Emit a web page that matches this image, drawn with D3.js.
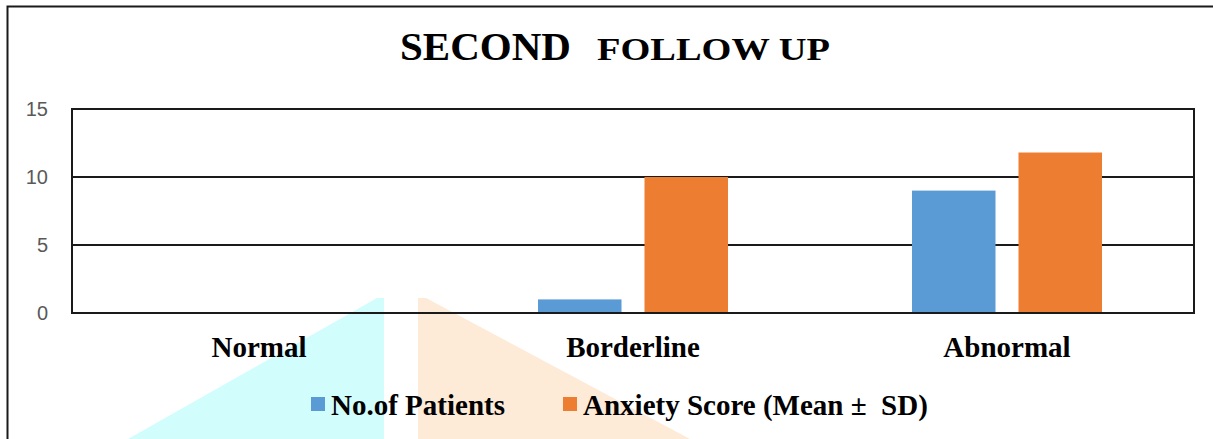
<!DOCTYPE html>
<html>
<head>
<meta charset="utf-8">
<script src="https://cdn.jsdelivr.net/npm/d3@7"></script>
<style>
  body { margin: 0; background: #fff; }
  svg { display: block; }
</style>
</head>
<body>
<div id="chart"></div>
<script>
// chart values
var categories = ["Normal", "Borderline", "Abnormal"];
var seriesNames = ["No.of Patients", "Anxiety Score (Mean \u00b1  SD)"];
var patients = [0, 1, 9];
var anxiety = [0, 10, 11.8];
var yTicks = [0, 5, 10, 15];
var colors = ["#5b9bd5", "#ed7d31"];

var W = 1213, H = 439;
var plot = {left: 72, right: 1194, top: 109, bottom: 313};

var svg = d3.select("#chart").append("svg")
    .attr("width", W)
    .attr("height", H);

// faint watermark behind the chart
svg.append("polygon")
    .attr("points", "128,439 377,298 384,298 384,439")
    .attr("fill", "#d2fdfd");
svg.append("polygon")
    .attr("points", "418,298 426,298 690,439 418,439")
    .attr("fill", "#fdebd8");

// outer frame (left + top edges visible)
svg.append("path")
    .attr("d", "M7.5,439 L7.5,6.5 L1213,6.5")
    .attr("fill", "none")
    .attr("stroke", "#1a1a1a")
    .attr("stroke-width", 2);

// title
svg.append("text")
    .attr("x", 400).attr("y", 60)
    .style("font-family", "'Liberation Serif', 'Times New Roman', serif")
    .style("font-weight", "bold")
    .style("font-size", "41px")
    .attr("fill", "#000")
    .text("SECOND");
svg.append("text")
    .attr("x", 597).attr("y", 60)
    .attr("textLength", 233)
    .attr("lengthAdjust", "spacingAndGlyphs")
    .style("font-family", "'Liberation Serif', 'Times New Roman', serif")
    .style("font-weight", "bold")
    .style("font-size", "32px")
    .attr("fill", "#000")
    .text("FOLLOW UP");

// scales
var x0 = d3.scaleBand()
    .domain(categories)
    .range([plot.left, plot.right])
    .paddingInner(0.492)
    .paddingOuter(0.246);

var x1 = d3.scaleBand()
    .domain([0, 1])
    .range([0, x0.bandwidth()])
    .paddingInner(0.216)
    .paddingOuter(0);

var y = d3.scaleLinear()
    .domain([0, 15])
    .range([plot.bottom, plot.top]);

// gridlines
svg.append("g")
    .selectAll("line")
    .data(yTicks.filter(function(d){ return d > 0 && d < 15; }))
    .enter()
    .append("line")
    .attr("x1", plot.left).attr("x2", plot.right)
    .attr("y1", function(d){ return y(d); })
    .attr("y2", function(d){ return y(d); })
    .attr("stroke", "#1a1a1a")
    .attr("stroke-width", 2);

// bars
var groups = svg.selectAll(".grp")
    .data(categories)
    .enter()
    .append("g")
    .attr("class", "grp")
    .attr("transform", function(d){ return "translate(" + x0(d) + ",0)"; });

groups.selectAll("rect")
    .data(function(d, i){ return [patients[i], anxiety[i]]; })
    .enter()
    .append("rect")
    .attr("x", function(d, j){ return x1(j); })
    .attr("width", x1.bandwidth())
    .attr("y", function(d){ return y(d); })
    .attr("height", function(d){ return y(0) - y(d); })
    .attr("fill", function(d, j){ return colors[j]; });

// plot border
svg.append("rect")
    .attr("x", plot.left).attr("y", plot.top)
    .attr("width", plot.right - plot.left)
    .attr("height", plot.bottom - plot.top)
    .attr("fill", "none")
    .attr("stroke", "#1a1a1a")
    .attr("stroke-width", 2);

// y axis labels
var yAxis = d3.axisLeft(y)
    .tickValues(yTicks)
    .tickSize(0)
    .tickPadding(24);

var yg = svg.append("g")
    .attr("transform", "translate(" + plot.left + ",0)")
    .call(yAxis);
yg.select(".domain").remove();
yg.selectAll("text")
    .style("font-family", "'Liberation Sans', Arial, sans-serif")
    .style("font-size", "20px")
    .attr("fill", "#595959");

// category labels
svg.append("g")
    .selectAll("text")
    .data(categories)
    .enter()
    .append("text")
    .attr("x", function(d){ return x0(d) + x0.bandwidth() / 2; })
    .attr("y", 357)
    .attr("text-anchor", "middle")
    .style("font-family", "'Liberation Serif', 'Times New Roman', serif")
    .style("font-weight", "bold")
    .style("font-size", "29px")
    .attr("fill", "#000")
    .text(function(d){ return d; });

// legend
var legendX = [311, 563];
var legend = svg.append("g")
    .selectAll("g")
    .data(seriesNames)
    .enter()
    .append("g")
    .attr("transform", function(d, i){ return "translate(" + legendX[i] + ",0)"; });

legend.append("rect")
    .attr("x", 0).attr("y", 397)
    .attr("width", 14).attr("height", 14)
    .attr("fill", function(d, i){ return colors[i]; });

legend.append("text")
    .attr("x", 20).attr("y", 415)
    .style("font-family", "'Liberation Serif', 'Times New Roman', serif")
    .style("font-weight", "bold")
    .style("font-size", "29px")
    .style("white-space", "pre")
    .attr("fill", "#000")
    .text(function(d){ return d; });
</script>
</body>
</html>
